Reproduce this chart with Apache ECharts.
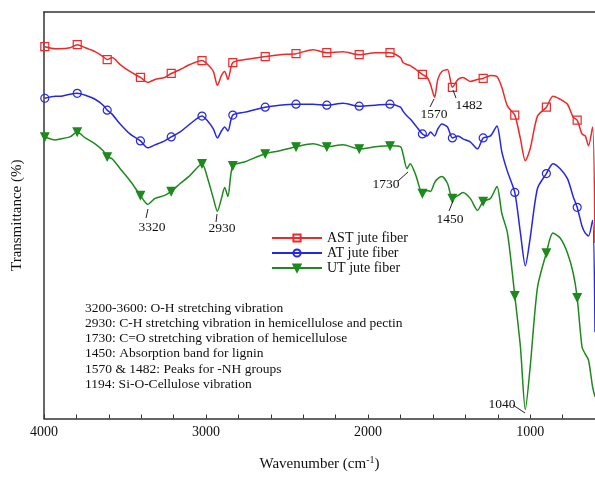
<!DOCTYPE html>
<html>
<head>
<meta charset="utf-8">
<script src="https://cdn.jsdelivr.net/npm/echarts@6/dist/echarts.min.js"></script>
<style>
  html,body{margin:0;padding:0;background:#fff;}
  #chart{width:595px;height:477px;}
</style>
</head>
<body>
<div id="chart"></div>
<script>
// wavenumber (cm-1), shared by the three spectra
const wavenumber = [3995,3930,3900,3840,3795,3745,3685,3635,3610,3580,
  3530,3470,3405,3360,3315,3255,3215,3160,3100,3025,
  2990,2955,2930,2905,2885,2865,2835,2760,2635,2545,
  2445,2340,2255,2155,2055,1955,1865,1800,1785,1760,
  1740,1705,1665,1635,1615,1590,1570,1545,1510,1480,
  1445,1415,1370,1325,1290,1245,1205,1175,1140,1095,
  1060,1030,1000,955,900,860,815,770,735,710,
  680,660,640,615,600]

// transmittance, arbitrary offset units
const ast = [375,373,373,374,377,374,370,365,362,364,
  357,350,344,339,342,344,348,352,357,361,
  357,350,336,346,350,342,359,362,365,367,
  368,372,369,370,367,369,369,364,359,357,
  356,352,347,344,337,324,342,350,352,334,
  342,344,340,342,343,346,345,334,315,306,
  282,260,272,305,314,325,322,317,304,301,
  287,285,275,294,177]
const at = [323,325,325,327,328,326,322,316,311,307,
  297,287,280,273,276,280,284,289,297,305,
  300,292,283,290,294,290,306,309,314,316,
  317,317,316,318,315,316,317,314,310,305,
  302,295,287,285,289,285,292,297,294,283,
  285,282,279,272,283,285,295,269,249,228,
  187,154,182,232,247,257,252,242,224,213,
  194,187,184,200,87]
const ut = [284,281,282,284,289,283,277,270,264,262,
  252,240,225,216,222,225,229,237,245,257,
  242,222,209,222,233,224,255,259,267,270,
  274,277,274,276,272,274,275,274,267,252,
  257,245,227,230,229,238,242,244,237,222,
  225,228,222,210,219,222,234,207,187,124,
  72,9,52,132,167,187,182,167,147,122,
  72,65,59,32,22]

// wavenumbers where the curves carry a marker
const markerWn = [3995,3795,3610,3405,3215,3025,2835,2635,2445,2255,2055,1865,1665,1480,1290,1095,900,710]

const xLabels = [4000,3000,2000,1000]
const xTicks = [4000,3800,3600,3400,3200,3000,2800,2600,2400,2200,2000,1800,1600,1400,1200,1000,800]

const notes = [
  '3200-3600: O-H stretching vibration',
  '2930: C-H stretching vibration in hemicellulose and pectin',
  '1730: C=O stretching vibration of hemicellulose',
  '1450: Absorption band for lignin',
  '1570 & 1482: Peaks for -NH groups',
  '1194: Si-O-Cellulose vibration'
]

// peak labels: tip of leader line, end of leader line, text centre (px)
const peakLabels = [
  {t:'3320', a:[148,209], b:[146,218], c:[152,227]},
  {t:'2930', a:[217,214], b:[216,222], c:[222,228]},
  {t:'1730', a:[408,172], b:[398,181], c:[386,184]},
  {t:'1570', a:[434,99],  b:[430,107], c:[434,114]},
  {t:'1482', a:[453,90],  b:[456,98],  c:[469,105]},
  {t:'1450', a:[453,201], b:[449,211], c:[450,219]},
  {t:'1040', a:[525,413], b:[513,405], c:[502,404]}
]

const font = '"Liberation Serif","Times New Roman",serif'

function buildData(vals){
  return wavenumber.map((w,i)=>{
    let item = {value:[w, vals[i]]}
    if(markerWn.indexOf(w) < 0) item.symbol = 'none'
    return item
  })
}

function makeSeries(name, vals, color, sym, filled, rot){
  return {
    name: name,
    type: 'line',
    data: buildData(vals),
    smooth: 0.25,
    symbol: sym,
    showAllSymbol: true,
    symbolSize: 8,
    symbolRotate: rot,
    lineStyle: {color: color, width: 1.5},
    itemStyle: {color: filled ? color : 'rgba(255,255,255,0)', borderColor: color, borderWidth: 1.2},
    emphasis: {disabled: true},
    z: 3
  }
}

let graphics = []
peakLabels.forEach(p=>{
  graphics.push({type:'line', shape:{x1:p.a[0], y1:p.a[1], x2:p.b[0], y2:p.b[1]},
    style:{stroke:'#222', lineWidth:1}, z:10})
  graphics.push({type:'text', x:p.c[0], y:p.c[1],
    style:{text:p.t, font:'13.5px '+font, fill:'#111', align:'center', verticalAlign:'middle'}, z:10})
})
notes.forEach((n,i)=>{
  graphics.push({type:'text', x:85, y:308 + i*15.3,
    style:{text:n, font:'13.5px '+font, fill:'#111', align:'left', verticalAlign:'middle'}, z:10})
})

var myChart = echarts.init(document.getElementById('chart'), null, {renderer:'canvas'})
var option = {
  animation: false,
  grid: {left: 44, right: 0, top: 12, bottom: 55},
  legend: {
    left: 266, top: 225.5, orient: 'vertical',
    itemWidth: 50, itemHeight: 9, itemGap: 0,
    textStyle: {fontFamily: font, fontSize: 14, color: '#111', lineHeight: 15},
    data: ['AST jute fiber','AT jute fiber','UT jute fiber']
  },
  xAxis: [{
    type: 'value', min: 600, max: 4000, inverse: true,
    name: 'Wavenumber (cm{sup|-1})', nameLocation: 'middle', nameGap: 37,
    nameTextStyle: {fontFamily: font, fontSize: 15, color: '#111',
      rich: {sup: {fontFamily: font, fontSize: 10, verticalAlign: 'top', padding: [0,0,8,0]}}},
    axisLine: {lineStyle: {color: '#333', width: 1.5}},
    axisTick: {inside: true, length: 4, customValues: xTicks, lineStyle: {color: '#333'}},
    axisLabel: {customValues: xLabels, margin: 7, fontFamily: font, fontSize: 14, color: '#111',
      formatter: function(v){ return String(v) }},
    splitLine: {show: false}
  },{
    type: 'value', position: 'top', min: 600, max: 4000, inverse: true,
    axisLine: {show: true, lineStyle: {color: '#333', width: 1.5}},
    axisTick: {show: false}, axisLabel: {show: false}, splitLine: {show: false}
  }],
  yAxis: {
    type: 'value', min: 0, max: 410,
    name: 'Transmittance (%)', nameLocation: 'middle', nameGap: 19,
    nameTextStyle: {fontFamily: font, fontSize: 15, color: '#111'},
    axisLine: {show: true, lineStyle: {color: '#333', width: 1.5}},
    axisTick: {show: false}, axisLabel: {show: false}, splitLine: {show: false}
  },
  series: [
    makeSeries('AST jute fiber', ast, '#f02828', 'rect', false, 0),
    makeSeries('AT jute fiber', at, '#2626e6', 'circle', false, 0),
    makeSeries('UT jute fiber', ut, '#1c8a1c', 'triangle', true, 180)
  ],
  graphic: graphics
}
myChart.setOption(option)
</script>
</body>
</html>
